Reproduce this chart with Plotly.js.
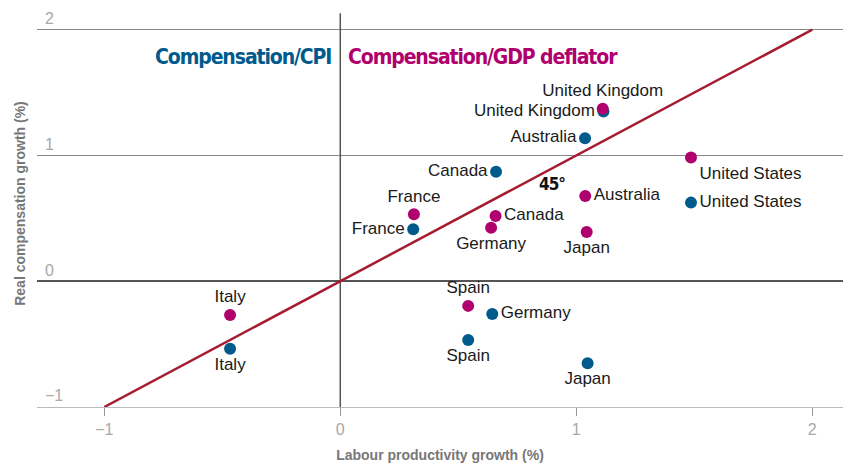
<!DOCTYPE html>
<html>
<head>
<meta charset="utf-8">
<script src="https://cdn.plot.ly/plotly-3.0.1.min.js"></script>
<style>html,body{margin:0;padding:0;background:#fff;}#chart{width:843px;height:463px;}</style>
</head>
<body>
<div id="chart"></div>
<script>
// ---- data ----
const countriesCPI = ["United Kingdom","Australia","Canada","France","United States","Italy","Germany","Spain","Japan"];
const cpiProductivity = [1.115, 1.037, 0.660, 0.309, 1.486, -0.467, 0.644, 0.542, 1.048];
const cpiRealComp     = [1.349, 1.137, 0.871, 0.413, 0.625, -0.536, -0.260, -0.467, -0.652];
const cpiLabelPos = ["middle left","middle left","middle left","middle left","middle right","bottom center","middle right","bottom center","bottom center"];

const countriesGDP = ["United Kingdom","United States","Australia","France","Canada","Germany","Japan","Italy","Spain"];
const gdpProductivity = [1.112, 1.486, 1.038, 0.312, 0.658, 0.639, 1.044, -0.467, 0.542];
const gdpRealComp     = [1.372, 0.983, 0.678, 0.532, 0.519, 0.426, 0.392, -0.268, -0.196];
const gdpLabelPos = ["top center","bottom right","middle right","top center","middle right","bottom center","bottom center","top center","top center"];

const lineX = [-1, 2];
const lineY = [-1, 2];
const zeroLineX = [0, 0];
const zeroLineY = [-1, 2.13];

const tickVals = [-1, 0, 1, 2];
const tickText = ["\u22121", "0", "1", "2"];

const BLUE = "#005a8c";
const MAGENTA = "#b0006e";
const RED = "#a51c30";
const labelFont = {family: "Liberation Sans, Arial, sans-serif", size: 17, color: "#1a1a1a"};

const traces = [
  {x: zeroLineX, y: zeroLineY, mode: "lines", line: {color: "#555", width: 1.5}, hoverinfo: "skip", showlegend: false},
  {x: lineX, y: lineY, mode: "lines", line: {color: RED, width: 2.5}, hoverinfo: "skip", showlegend: false},
  {x: cpiProductivity, y: cpiRealComp, text: countriesCPI, mode: "markers+text",
   textposition: cpiLabelPos, textfont: labelFont,
   marker: {color: BLUE, size: 12}, showlegend: false, cliponaxis: false},
  {x: gdpProductivity, y: gdpRealComp, text: countriesGDP, mode: "markers+text",
   textposition: gdpLabelPos, textfont: labelFont,
   marker: {color: MAGENTA, size: 12}, showlegend: false, cliponaxis: false}
];

const condensed = "DejaVu Sans Condensed, Liberation Sans Narrow, Arial Narrow, sans-serif";

const layout = {
  width: 843, height: 463,
  margin: {l: 37, r: 0, t: 0, b: 56},
  paper_bgcolor: "#fff", plot_bgcolor: "#fff",
  showlegend: false,
  xaxis: {
    range: [-1.285, 2.13],
    tickvals: tickVals, ticktext: tickText,
    tickfont: {family: "Liberation Sans, Arial, sans-serif", size: 16, color: "#a8a8a8"},
    ticks: "outside", ticklen: 8, tickcolor: "#999", tickwidth: 1,
    showline: true, linecolor: "#bbb", linewidth: 1,
    showgrid: false,
    zeroline: false,
    title: {text: "Labour productivity growth (%)", standoff: 12,
            font: {family: "Liberation Sans, Arial, sans-serif", size: 14, color: "#777", weight: "bold"}},
    automargin: false, fixedrange: true
  },
  yaxis: {
    range: [-1, 2.236],
    tickvals: tickVals, ticktext: tickText,
    tickfont: {family: "Liberation Sans, Arial, sans-serif", size: 16, color: "#a8a8a8"},
    ticklabelposition: "inside top", ticks: "", ticklabelstandoff: 5,
    showgrid: true, gridcolor: "#888", gridwidth: 1,
    showline: false,
    zeroline: true, zerolinecolor: "#555", zerolinewidth: 1.5,
    title: {text: "Real compensation growth (%)", standoff: 16,
            font: {family: "Liberation Sans, Arial, sans-serif", size: 14, color: "#777", weight: "bold"}},
    automargin: false, fixedrange: true
  },
  annotations: [
    {x: -0.031, y: 1.783, xref: "x", yref: "y",
     text: "<span style='letter-spacing:-1.1px'>Compensation/CPI</span>", showarrow: false,
     xanchor: "right", yanchor: "middle",
     font: {family: condensed, size: 21, color: BLUE, weight: "bold"}},
    {x: 0.024, y: 1.783, xref: "x", yref: "y",
     text: "<span style='letter-spacing:-1.1px'>Compensation/GDP deflator</span>", showarrow: false,
     xanchor: "left", yanchor: "middle",
     font: {family: condensed, size: 21, color: MAGENTA, weight: "bold"}},
    {x: 0.897, y: 0.773, xref: "x", yref: "y",
     text: "<span style='letter-spacing:-1px'>45°</span>", showarrow: false,
     xanchor: "center", yanchor: "middle",
     font: {family: condensed, size: 17, color: "#111", weight: "bold"}}
  ]
};

Plotly.newPlot("chart", traces, layout, {displayModeBar: false, staticPlot: true});
</script>
</body>
</html>
